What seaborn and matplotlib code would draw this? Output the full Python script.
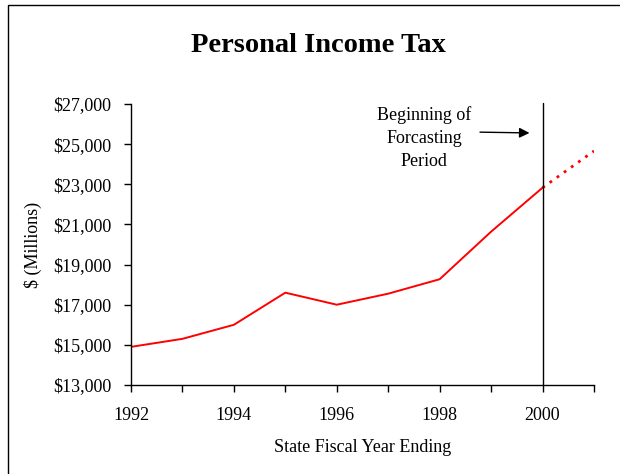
import matplotlib
matplotlib.use("Agg")
import matplotlib.pyplot as plt
import seaborn as sns
import pandas as pd
from matplotlib.patches import Rectangle
from matplotlib.ticker import FuncFormatter

# Personal income tax collections, $ millions
years_actual = [1992, 1993, 1994, 1995, 1996, 1997, 1998, 1999, 2000]
tax_actual = [14900, 15300, 16000, 17600, 17000, 17550, 18270, 20640, 22830]
years_forecast = [2000, 2001]
tax_forecast = [22830, 24660]
forecast_start = 2000

x_ticks = list(range(1992, 2002))
y_ticks = [13000, 15000, 17000, 19000, 21000, 23000, 25000, 27000]

actual = pd.DataFrame({"year": years_actual, "tax": tax_actual})
forecast = pd.DataFrame({"year": years_forecast, "tax": tax_forecast})

sns.set_theme(style="ticks")
plt.rcParams["font.family"] = ["Liberation Serif", "DejaVu Serif"]

fig = plt.figure(figsize=(6.2, 4.74), dpi=100)
ax = fig.add_axes([131 / 620, 1 - 385 / 474, (594 - 131) / 620, (385 - 104) / 474])

sns.lineplot(data=actual, x="year", y="tax", ax=ax, color="red", linewidth=1.4)
sns.lineplot(data=forecast, x="year", y="tax", ax=ax, color="red",
             linewidth=2.0, linestyle=(0, (1.0, 2.15)))

ax.axvline(forecast_start, ymin=0, ymax=1.003, color="black", linewidth=1.0,
           clip_on=False)

ax.set_xlim(1992, 2001)
ax.set_ylim(13000, 27000)
ax.set_xticks(x_ticks)
ax.set_yticks(y_ticks)
ax.xaxis.set_major_formatter(
    FuncFormatter(lambda v, p: f"{int(round(v))}" if int(round(v)) % 2 == 0 else ""))
ax.yaxis.set_major_formatter(FuncFormatter(lambda v, p: f"${v:,.0f}"))

for s in ["top", "right"]:
    ax.spines[s].set_visible(False)
for s in ["left", "bottom"]:
    ax.spines[s].set_color("black")
    ax.spines[s].set_linewidth(1.0)

ax.tick_params(axis="both", which="major", direction="out", length=5, width=1,
               color="black", labelsize=13, labelcolor="black")
ax.tick_params(axis="x", pad=11)
ax.tick_params(axis="y", pad=9)

ax.set_xlabel("State Fiscal Year Ending", fontsize=13, labelpad=11, color="black")
ax.set_ylabel("$ (Millions)", fontsize=13, labelpad=8, color="black")

fig.text(318 / 620, 1 - 46 / 474, "Personal Income Tax", ha="center", va="center",
         fontsize=20.5, fontweight="bold", color="black")

ax.annotate("", xy=(1999.80, 25556), xytext=(1998.73, 25600),
            arrowprops=dict(arrowstyle="-|>", color="black", lw=1.0,
                            mutation_scale=15))
ax.text(1997.7, 25306, "Beginning of\nForcasting\nPeriod", ha="center",
        va="center", fontsize=13, linespacing=1.45, color="black")

# page frame
fig.patches.append(Rectangle((8 / 620, -0.1), 1.1, 1 - 5 / 474 + 0.1,
                             transform=fig.transFigure, fill=False,
                             edgecolor="black", linewidth=1.0))

fig.savefig("out.png", dpi=100)
